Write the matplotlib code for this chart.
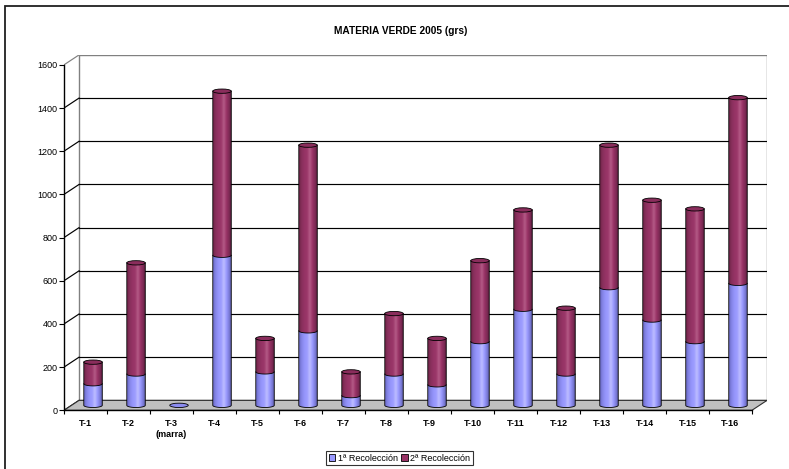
import numpy as np
import matplotlib.pyplot as plt
from matplotlib.patches import Polygon, Ellipse, Rectangle, Patch
from matplotlib.colors import LinearSegmentedColormap

plt.rcParams['font.family'] = ['Liberation Sans', 'DejaVu Sans']

labels = ['T-1', 'T-2', 'T-3\n(marra)', 'T-4', 'T-5', 'T-6', 'T-7', 'T-8',
          'T-9', 'T-10', 'T-11', 'T-12', 'T-13', 'T-14', 'T-15', 'T-16']
recol1 = [100, 145, 0, 695, 155, 345, 45, 145, 95, 295, 445, 145, 545, 395, 295, 565]
recol2 = [100, 515, 0, 760, 155, 860, 110, 280, 215, 375, 460, 305, 660, 555, 615, 860]
series_names = ['1ª Recolección', '2ª Recolección']

# pseudo-3d geometry (data units)
DX = 0.35      # depth shift along x
DY = 46        # depth shift along y
W = 0.43       # cylinder width
EH = 20        # ellipse height of cylinder caps

blue_cm = LinearSegmentedColormap.from_list(
    'b', ['#6a6ac4', '#8585e8', '#9595fb', '#9d9dff', '#bdbdff', '#9a9aff', '#7a7ad6', '#55559a'])
red_cm = LinearSegmentedColormap.from_list(
    'r', ['#6e2448', '#88305c', '#953365', '#9b3769', '#b45a86', '#993366', '#7c2a54', '#561c3a'])
grad = np.linspace(0, 1, 256).reshape(1, -1)


def cylinder(ax, cx, y0, y1, cmap, top_color, with_top):
    th = np.linspace(np.pi, 2 * np.pi, 50)
    ax_x = cx + W / 2 * np.cos(th)
    ax_y = y0 + EH / 2 * np.sin(th)
    verts = list(zip(ax_x, ax_y)) + [(cx + W / 2, y1), (cx - W / 2, y1)]
    body = Polygon(verts, closed=True, fc='none', ec='none')
    ax.add_patch(body)
    im = ax.imshow(grad, cmap=cmap, extent=[cx - W / 2, cx + W / 2, y0 - EH / 2, y1],
                   aspect='auto', zorder=3, interpolation='bilinear')
    im.set_clip_path(body)
    ox = np.concatenate([[cx - W / 2], ax_x, [cx + W / 2]])
    oy = np.concatenate([[y1], ax_y, [y1]])
    ax.plot(ox, oy, color='black', lw=0.6, zorder=4)
    if with_top:
        ax.add_patch(Ellipse((cx, y1), W, EH, fc=top_color, ec='black', lw=0.6, zorder=5))


fig = plt.figure(figsize=(7.89, 4.69), dpi=100)
ax = fig.add_axes([64 / 789, (469 - 410.3) / 469, 703 / 789, (410.3 - 54.9) / 469])

# back wall, gridlines and left side wall
ax.add_patch(Rectangle((-0.5 + DX, DY), 16, 1600, fc='white', ec='#808080', lw=1, zorder=0))
for v in range(200, 1600, 200):
    ax.plot([-0.5 + DX, 15.5 + DX], [v + DY, v + DY], color='black', lw=0.85, zorder=1)
for v in range(0, 1601, 200):
    ax.plot([-0.5, -0.5 + DX], [v, v + DY], color='black' if v < 1600 else '#808080',
            lw=0.85, zorder=1)

# floor
ax.add_patch(Polygon([(-0.5, 0), (15.5, 0), (15.5 + DX, DY), (-0.5 + DX, DY)],
                     fc='#c0c0c0', ec='#303030', lw=0.8, zorder=2))

base = DY / 2
for i in range(len(labels)):
    cx = i + DX / 2
    a, b = recol1[i], recol2[i]
    if a + b == 0:
        ax.add_patch(Ellipse((cx, base), W, EH, fc='#8c8cf0', ec='black', lw=0.6, zorder=5))
        continue
    cylinder(ax, cx, base, base + a, blue_cm, '#8c8cf0', False)
    cylinder(ax, cx, base + a, base + a + b, red_cm, '#8a2d5c', True)

ax.set_xlim(-0.5, 15.5 + DX)
ax.set_ylim(0, 1600 + DY)

for s in ['top', 'right']:
    ax.spines[s].set_visible(False)
ax.spines['left'].set_bounds(0, 1600)
ax.spines['bottom'].set_bounds(-0.5, 15.5)
for s in ['left', 'bottom']:
    ax.spines[s].set_linewidth(1)
    ax.spines[s].set_zorder(6)

ax.set_yticks(range(0, 1601, 200))
ax.tick_params(axis='y', length=3.5, width=0.8, pad=1, labelsize=6.5)
ax.set_xticks(range(16))
ax.set_xticklabels(labels, fontsize=6.5, fontweight='bold')
ax.set_xticks(np.arange(-0.5, 16, 1), minor=True)
ax.tick_params(axis='x', which='major', length=0, pad=6.5)
ax.tick_params(axis='x', which='minor', length=3, width=0.8)

fig.text(401 / 789, 1 - 31.5 / 469, 'MATERIA VERDE 2005 (grs)', ha='center', va='center',
         fontsize=7.3, fontweight='bold')

handles = [Patch(fc='#9999ff', ec='black', lw=0.6), Patch(fc='#993366', ec='black', lw=0.6)]
leg = fig.legend(handles, series_names, loc='center', bbox_to_anchor=(399.5 / 789, 1 - 458 / 469),
                 ncol=2, fontsize=6.5, frameon=True, fancybox=False, edgecolor='black',
                 handlelength=0.7, handleheight=0.7, handletextpad=0.3, columnspacing=0.4,
                 borderpad=0.25, borderaxespad=0)
leg.get_frame().set_linewidth(0.8)

# chart border (runs off the right and bottom edges)
fig.patches.append(Rectangle((5 / 789, -0.1), 1, 1.1 - 6 / 469, transform=fig.transFigure,
                             fill=False, ec='#202020', lw=1.3))

fig.savefig('out.png', dpi=100)
